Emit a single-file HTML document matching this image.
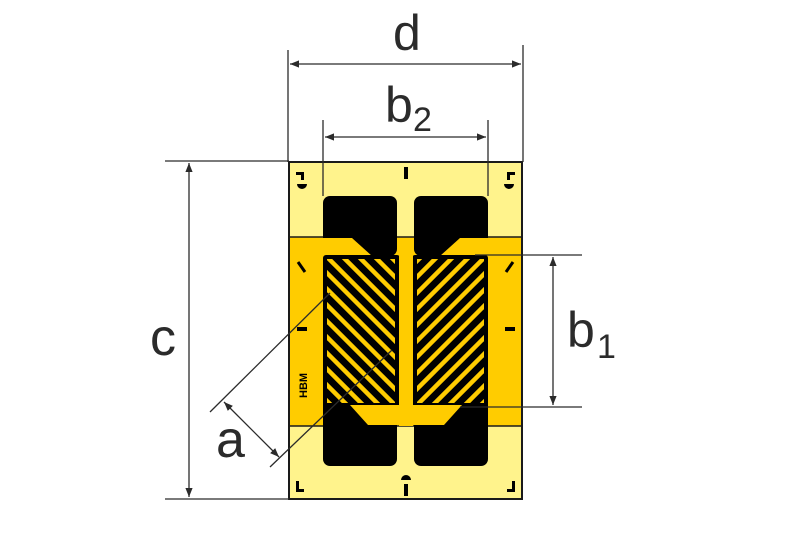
<!DOCTYPE html>
<html><head><meta charset="utf-8"><style>
html,body{margin:0;padding:0;background:#fff;}
svg{display:block;}
text{font-family:"Liberation Sans",sans-serif;fill:#2b2b2b;}
</style></head><body>
<svg width="800" height="533" viewBox="0 0 800 533" xmlns="http://www.w3.org/2000/svg">
<defs>
<marker id="ar" viewBox="0 0 10 10" refX="10" refY="5" markerWidth="9" markerHeight="9" orient="auto-start-reverse" markerUnits="userSpaceOnUse">
<path d="M0,1 L10,5 L0,9 Z" fill="#2b2b2b"/></marker>
<clipPath id="gl"><rect x="327" y="259" width="68" height="144"/></clipPath>
<clipPath id="gr"><rect x="417" y="259" width="67" height="144"/></clipPath>
</defs>
<rect x="289" y="162" width="233" height="337" fill="#fff38c" stroke="#1a1a1a" stroke-width="2"/>
<rect x="290" y="237" width="231" height="189" fill="#ffcc00"/>
<line x1="289" y1="237" x2="522" y2="237" stroke="#1a1a1a" stroke-width="1.5"/>
<line x1="289" y1="426" x2="522" y2="426" stroke="#1a1a1a" stroke-width="1.5"/>
<rect x="323" y="196" width="74" height="60" rx="7" fill="#000"/>
<rect x="414" y="196" width="74" height="60" rx="7" fill="#000"/>
<rect x="323" y="370" width="74" height="96" rx="7" fill="#000"/>
<rect x="414" y="370" width="74" height="96" rx="7" fill="#000"/>
<polygon points="290,238 352,238 372,256 290,256" fill="#ffcc00"/>
<polygon points="521,238 460,238 440,256 521,256" fill="#ffcc00"/>
<rect x="323" y="255" width="77" height="152" rx="3" fill="#000"/>
<rect x="412" y="255" width="76" height="152" rx="3" fill="#000"/>
<polygon points="350,405 414,405 414,425 368,425" fill="#ffcc00"/>
<polygon points="462,405 398,405 398,425 444,425" fill="#ffcc00"/>
<rect x="399" y="238" width="14" height="188" fill="#ffcc00"/>
<g clip-path="url(#gl)" stroke="#ffcc00" stroke-width="4.5" stroke-linecap="round">
<line x1="300" y1="150" x2="470" y2="320"/><line x1="300" y1="166" x2="470" y2="336"/>
<line x1="300" y1="182" x2="470" y2="352"/><line x1="300" y1="198" x2="470" y2="368"/>
<line x1="300" y1="214" x2="470" y2="384"/><line x1="300" y1="230" x2="470" y2="400"/>
<line x1="300" y1="246" x2="470" y2="416"/><line x1="300" y1="262" x2="470" y2="432"/>
<line x1="300" y1="278" x2="470" y2="448"/><line x1="300" y1="294" x2="470" y2="464"/>
<line x1="300" y1="310" x2="470" y2="480"/><line x1="300" y1="326" x2="470" y2="496"/>
<line x1="300" y1="342" x2="470" y2="512"/><line x1="300" y1="358" x2="470" y2="528"/>
<line x1="300" y1="374" x2="470" y2="544"/>
</g>
<g clip-path="url(#gr)" stroke="#ffcc00" stroke-width="4.5" stroke-linecap="round">
<line x1="512" y1="150" x2="342" y2="320"/><line x1="512" y1="166" x2="342" y2="336"/>
<line x1="512" y1="182" x2="342" y2="352"/><line x1="512" y1="198" x2="342" y2="368"/>
<line x1="512" y1="214" x2="342" y2="384"/><line x1="512" y1="230" x2="342" y2="400"/>
<line x1="512" y1="246" x2="342" y2="416"/><line x1="512" y1="262" x2="342" y2="432"/>
<line x1="512" y1="278" x2="342" y2="448"/><line x1="512" y1="294" x2="342" y2="464"/>
<line x1="512" y1="310" x2="342" y2="480"/><line x1="512" y1="326" x2="342" y2="496"/>
<line x1="512" y1="342" x2="342" y2="512"/><line x1="512" y1="358" x2="342" y2="528"/>
<line x1="512" y1="374" x2="342" y2="544"/>
</g>
<g fill="#000">
<rect x="404" y="167" width="4" height="12"/><rect x="404" y="484" width="4" height="12"/>
<rect x="297" y="327" width="10" height="4"/><rect x="505" y="327" width="10" height="4"/>
<path d="M296,172 h8 v8 h-3 v-5 h-5z"/><path d="M515,172 h-8 v8 h3 v-5 h5z"/>
<path d="M297,184 a5,5 0 0 0 10,0z"/><path d="M504,184 a5,5 0 0 0 10,0z"/>
<path d="M401,480 a5,5 0 0 1 10,0z"/>
<path d="M296,492 h8 v-3 h-5 v-8 h-3z"/><path d="M515,492 h-8 v-3 h5 v-8 h3z"/>
</g>
<g stroke="#000" stroke-width="3">
<line x1="298" y1="262" x2="305" y2="272"/><line x1="513" y1="262" x2="506" y2="272"/>
</g>
<text x="307" y="398" font-size="11" font-weight="bold" transform="rotate(-90 307 398)" style="fill:#000">HBM</text>
<g stroke="#2b2b2b" stroke-width="1.3" fill="none">
<line x1="288" y1="50" x2="288" y2="162"/><line x1="523" y1="45" x2="523" y2="162"/>
<line x1="290" y1="64" x2="521" y2="64" marker-start="url(#ar)" marker-end="url(#ar)"/>
<line x1="323" y1="120" x2="323" y2="196"/><line x1="488" y1="120" x2="488" y2="196"/>
<line x1="325" y1="137" x2="486" y2="137" marker-start="url(#ar)" marker-end="url(#ar)"/>
<line x1="165" y1="161" x2="289" y2="161"/><line x1="165" y1="499" x2="289" y2="499"/>
<line x1="189" y1="163" x2="189" y2="497" marker-start="url(#ar)" marker-end="url(#ar)"/>
<line x1="475" y1="255" x2="582" y2="255"/><line x1="460" y1="407" x2="582" y2="407"/>
<line x1="553" y1="257" x2="553" y2="405" marker-start="url(#ar)" marker-end="url(#ar)"/>
<line x1="210" y1="412" x2="330" y2="293"/>
<line x1="270" y1="467" x2="392" y2="350"/>
<line x1="224" y1="402" x2="279" y2="457" marker-start="url(#ar)" marker-end="url(#ar)"/>
</g>
<text x="393" y="50" font-size="50">d</text>
<text x="385" y="122" font-size="50">b</text><text x="413" y="131" font-size="34">2</text>
<text x="150" y="355" font-size="52">c</text>
<text x="567" y="347" font-size="50">b</text><text x="597" y="358" font-size="34">1</text>
<text x="216" y="457" font-size="52">a</text>
</svg>
</body></html>
